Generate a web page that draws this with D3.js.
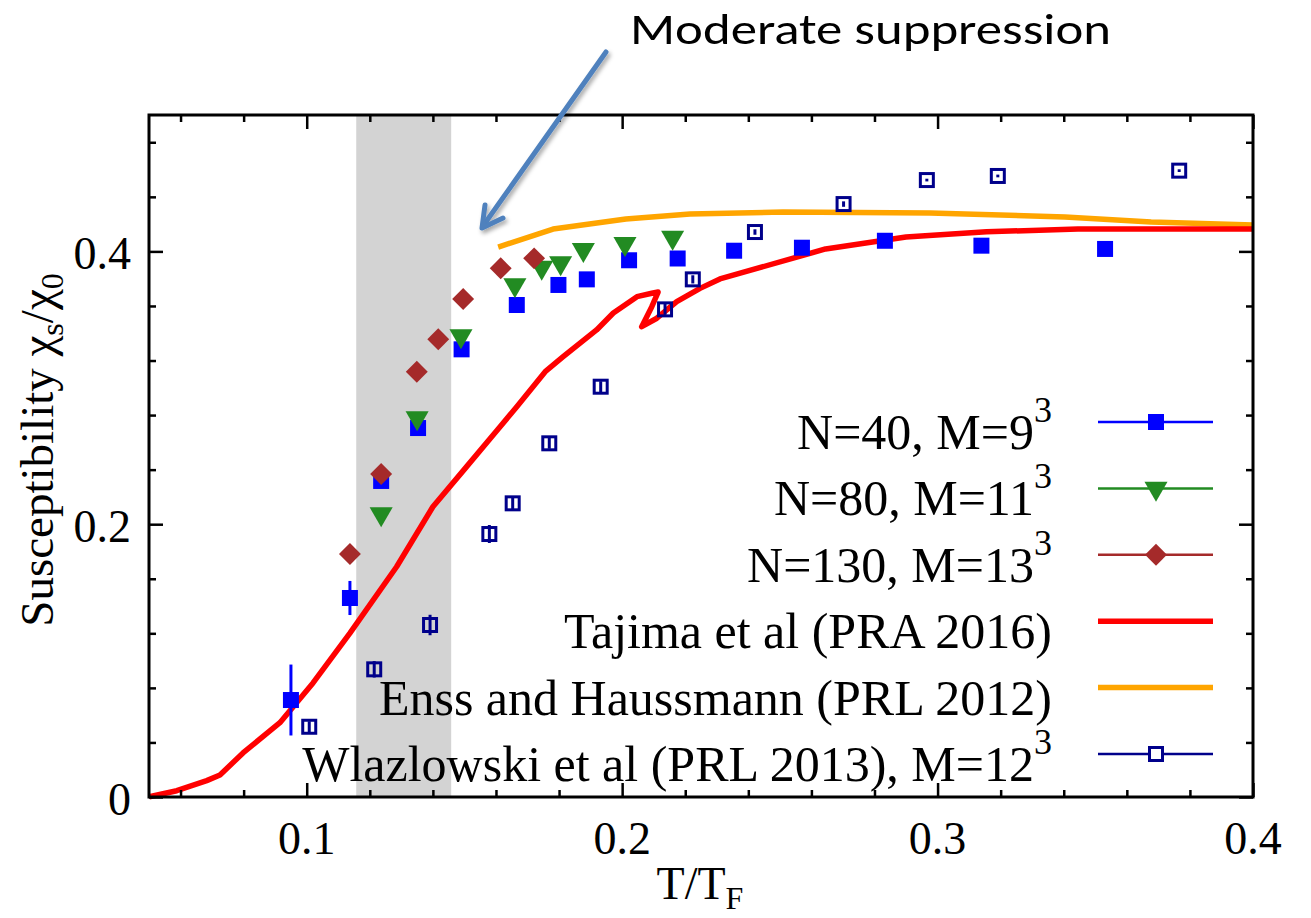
<!DOCTYPE html>
<html>
<head>
<meta charset="utf-8">
<script src="https://cdn.jsdelivr.net/npm/d3@7"></script>
<style>
  body { margin: 0; background: #fff; }
  text { font-family: "Liberation Serif", "Times New Roman", serif; fill: #000; }
</style>
</head>
<body>
<div id="root"></div>
<script>
// QMC spin susceptibility, N=40, M=9^3
var tempN40 = [0.0950, 0.1137, 0.1236, 0.1353, 0.1491, 0.1666, 0.1798, 0.1888, 0.2022, 0.2176, 0.2355, 0.2570, 0.2833, 0.3139, 0.3531];
var chiN40  = [0.0711, 0.1459, 0.2317, 0.2705, 0.3282, 0.3607, 0.3754, 0.3795, 0.3935, 0.3948, 0.4005, 0.4027, 0.4078, 0.4042, 0.4018];
var errN40  = [0.026, 0.0125, 0.005, 0.004, 0.004, 0.004, 0.003, 0.003, 0.003, 0.003, 0.003, 0.003, 0.003, 0.003, 0.003];

// N=80, M=11^3
var tempN80 = [0.1236, 0.1350, 0.1489, 0.1660, 0.1745, 0.1805, 0.1877, 0.2009, 0.2160];
var chiN80  = [0.2075, 0.2779, 0.3380, 0.3754, 0.3883, 0.3915, 0.4012, 0.4056, 0.4103];

// N=130, M=13^3
var tempN130 = [0.1137, 0.1236, 0.1349, 0.1417, 0.1496, 0.1615, 0.1721];
var chiN130  = [0.1782, 0.2368, 0.3118, 0.3356, 0.3651, 0.3876, 0.3949];

// Tajima et al (PRA 2016)
var tempTajima = [0.0501, 0.0588, 0.0683, 0.0725, 0.0798, 0.0915, 0.1020, 0.1137, 0.1285, 0.1400, 0.1507, 0.1613, 0.1666, 0.1756, 0.1813, 0.1919, 0.1972, 0.2047, 0.2094, 0.2114, 0.2094, 0.2062, 0.2110, 0.2173, 0.2247, 0.2310, 0.2645, 0.2900, 0.3155, 0.3445, 0.4000];
var chiTajima  = [0.0002, 0.0046, 0.0120, 0.0161, 0.0323, 0.0545, 0.0836, 0.1202, 0.1688, 0.2128, 0.2422, 0.2715, 0.2861, 0.3118, 0.3228, 0.3424, 0.3548, 0.3668, 0.3693, 0.3702, 0.3595, 0.3448, 0.3510, 0.3631, 0.3729, 0.3798, 0.4018, 0.4106, 0.4144, 0.4164, 0.4164];

// Enss and Haussmann (PRL 2012)
var tempEnss = [0.1607, 0.1781, 0.2012, 0.2215, 0.2510, 0.2976, 0.3404, 0.3677, 0.4000];
var chiEnss  = [0.4032, 0.4164, 0.4238, 0.4274, 0.4289, 0.4282, 0.4252, 0.4216, 0.4194];

// Wlazlowski et al (PRL 2013), M=12^3
var tempWlaz = [0.1008, 0.1214, 0.1391, 0.1579, 0.1653, 0.1769, 0.1932, 0.2136, 0.2224, 0.2421, 0.2702, 0.2966, 0.3191, 0.3766];
var chiWlaz  = [0.0515, 0.0936, 0.1261, 0.1928, 0.2153, 0.2593, 0.3008, 0.3575, 0.3795, 0.4142, 0.4347, 0.4523, 0.4553, 0.4592];
var errWlaz  = [0.004, 0.006, 0.0075, 0.0066, 0.005, 0.004, 0.004, 0.004, 0.003, 0.002, 0.002, 0.001, 0.001, 0.001];

// shaded region and ticks
var bandRange = [0.1157, 0.1458];
var xTicks = [0.1, 0.2, 0.3, 0.4];
var xMinor = [0.06, 0.08, 0.12, 0.14, 0.16, 0.18, 0.22, 0.24, 0.26, 0.28, 0.32, 0.34, 0.36, 0.38];
var yTicks = [0, 0.2, 0.4];
var yMinor = [0.04, 0.08, 0.12, 0.16, 0.24, 0.28, 0.32, 0.36, 0.44, 0.48];

var legendNames = ["N=40, M=9", "N=80, M=11", "N=130, M=13", "Tajima et al (PRA 2016)", "Enss and Haussmann (PRL 2012)", "Wlazlowski et al (PRL 2013), M=12"];
var legendSup   = ["3", "3", "3", "", "", "3"];

var colBlue = "#0000ff", colGreen = "#228b22", colBrown = "#a52a2a",
    colRed = "#ff0000", colOrange = "#ffa500", colNavy = "#00008b";

var W = 1311, H = 918;
var margin = {top: 115, right: 58, bottom: 121, left: 149},
    width = W - margin.left - margin.right,
    height = H - margin.top - margin.bottom;

var svg = d3.select("#root").append("svg")
    .attr("width", W)
    .attr("height", H);

var defs = svg.append("defs");
var shadow = defs.append("filter").attr("id", "shadow")
    .attr("x", "-20%").attr("y", "-20%").attr("width", "140%").attr("height", "140%");
shadow.append("feDropShadow")
    .attr("dx", 2).attr("dy", 3).attr("stdDeviation", 2)
    .attr("flood-color", "#000").attr("flood-opacity", 0.35);

var g = svg.append("g")
    .attr("transform", "translate(" + margin.left + "," + margin.top + ")");

var x = d3.scaleLinear().domain([0.05, 0.4]).range([0, width]);
var y = d3.scaleLinear().domain([0, 0.5]).range([height, 0]);

// grey band
g.append("rect")
    .attr("x", x(bandRange[0]))
    .attr("y", 0)
    .attr("width", x(bandRange[1]) - x(bandRange[0]))
    .attr("height", height)
    .attr("fill", "#d3d3d3");

function zip(xs, ys) {
  return xs.map(function(v, i) { return [v, ys[i]]; });
}

var line = d3.line()
    .x(function(d) { return x(d[0]); })
    .y(function(d) { return y(d[1]); });

// theory curves
g.append("path")
    .datum(zip(tempEnss, chiEnss))
    .attr("d", line)
    .attr("fill", "none")
    .attr("stroke", colOrange)
    .attr("stroke-width", 5.5)
    .attr("stroke-linejoin", "round");

g.append("path")
    .datum(zip(tempTajima, chiTajima))
    .attr("d", line)
    .attr("fill", "none")
    .attr("stroke", colRed)
    .attr("stroke-width", 5.5)
    .attr("stroke-linejoin", "round");

// Wlazlowski open squares with error bars
var wl = g.selectAll(".wl")
    .data(tempWlaz.map(function(t, i) { return {t: t, c: chiWlaz[i], e: errWlaz[i]}; }))
    .enter().append("g").attr("class", "wl");
wl.append("line")
    .attr("x1", function(d) { return x(d.t); })
    .attr("x2", function(d) { return x(d.t); })
    .attr("y1", function(d) { return y(d.c - d.e); })
    .attr("y2", function(d) { return y(d.c + d.e); })
    .attr("stroke", colNavy).attr("stroke-width", 3);
wl.append("rect")
    .attr("x", function(d) { return x(d.t) - 6.5; })
    .attr("y", function(d) { return y(d.c) - 6.5; })
    .attr("width", 13).attr("height", 13)
    .attr("fill", "none")
    .attr("stroke", colNavy).attr("stroke-width", 3);

// N=40 filled squares
var n40 = g.selectAll(".n40")
    .data(tempN40.map(function(t, i) { return {t: t, c: chiN40[i], e: errN40[i]}; }))
    .enter().append("g").attr("class", "n40");
n40.append("line")
    .attr("x1", function(d) { return x(d.t); })
    .attr("x2", function(d) { return x(d.t); })
    .attr("y1", function(d) { return y(d.c - d.e); })
    .attr("y2", function(d) { return y(d.c + d.e); })
    .attr("stroke", colBlue).attr("stroke-width", 3);
n40.append("rect")
    .attr("x", function(d) { return x(d.t) - 8; })
    .attr("y", function(d) { return y(d.c) - 8; })
    .attr("width", 16).attr("height", 16)
    .attr("fill", colBlue);

// N=80 down triangles
var tri = d3.symbol().type(d3.symbolTriangle).size(230);
g.selectAll(".n80")
    .data(zip(tempN80, chiN80))
    .enter().append("path")
    .attr("class", "n80")
    .attr("d", tri)
    .attr("transform", function(d) { return "translate(" + x(d[0]) + "," + y(d[1]) + ")rotate(180)"; })
    .attr("fill", colGreen);

// N=130 diamonds
var dia = d3.symbol().type(d3.symbolSquare).size(240);
g.selectAll(".n130")
    .data(zip(tempN130, chiN130))
    .enter().append("path")
    .attr("class", "n130")
    .attr("d", dia)
    .attr("transform", function(d) { return "translate(" + x(d[0]) + "," + y(d[1]) + ")rotate(45)"; })
    .attr("fill", colBrown);

// axes, ticks pointing inward on all four sides
function styleAxis(sel) {
  sel.select(".domain").remove();
  sel.selectAll(".tick line").attr("stroke", "#000").attr("stroke-width", 2.5);
  sel.selectAll("text").remove();
}
g.append("g").attr("transform", "translate(0," + height + ")")
    .call(d3.axisBottom(x).tickValues(xTicks).tickSize(-14)).call(styleAxis);
g.append("g").attr("transform", "translate(0," + height + ")")
    .call(d3.axisBottom(x).tickValues(xMinor).tickSize(-7)).call(styleAxis);
g.append("g")
    .call(d3.axisTop(x).tickValues(xTicks).tickSize(-14)).call(styleAxis);
g.append("g")
    .call(d3.axisTop(x).tickValues(xMinor).tickSize(-7)).call(styleAxis);
g.append("g")
    .call(d3.axisLeft(y).tickValues(yTicks).tickSize(-14)).call(styleAxis);
g.append("g")
    .call(d3.axisLeft(y).tickValues(yMinor).tickSize(-7)).call(styleAxis);
g.append("g").attr("transform", "translate(" + width + ",0)")
    .call(d3.axisRight(y).tickValues(yTicks).tickSize(-14)).call(styleAxis);
g.append("g").attr("transform", "translate(" + width + ",0)")
    .call(d3.axisRight(y).tickValues(yMinor).tickSize(-7)).call(styleAxis);

g.append("rect")
    .attr("width", width).attr("height", height)
    .attr("fill", "none").attr("stroke", "#000").attr("stroke-width", 3);

// tick labels
g.selectAll(".xlab")
    .data(xTicks)
    .enter().append("text")
    .attr("x", function(d) { return x(d); })
    .attr("y", height + 57)
    .attr("text-anchor", "middle")
    .attr("font-size", "46px")
    .text(function(d) { return d3.format(".1f")(d); });

g.selectAll(".ylab")
    .data(yTicks)
    .enter().append("text")
    .attr("x", -18)
    .attr("y", function(d) { return y(d) + 18; })
    .attr("text-anchor", "end")
    .attr("font-size", "46px")
    .text(function(d) { return d === 0 ? "0" : d3.format(".1f")(d); });

// axis titles
var xt = svg.append("text")
    .attr("x", 700)
    .attr("y", 899)
    .attr("text-anchor", "middle")
    .attr("font-size", "46px");
xt.append("tspan").text("T/T");
xt.append("tspan").attr("dy", 10).attr("font-size", "32px").text("F");

var yt = svg.append("text")
    .attr("transform", "translate(53,450)rotate(-90)")
    .attr("text-anchor", "middle")
    .attr("font-size", "47px");
yt.append("tspan").text("Susceptibility \u03c7");
yt.append("tspan").attr("dy", 10).attr("font-size", "32px").text("s");
yt.append("tspan").attr("dy", -10).text("/\u03c7");
yt.append("tspan").attr("dy", 10).attr("font-size", "32px").text("0");

// legend
var legX1 = 1098, legX2 = 1213, legMid = 1156, legTextX = 1052, legY0 = 422, legDy = 66.4;
var legColors = [colBlue, colGreen, colBrown, colRed, colOrange, colNavy];
var legWidths = [2.5, 2.5, 2.5, 5.5, 5.5, 2.5];

var leg = svg.selectAll(".leg")
    .data(legendNames)
    .enter().append("g")
    .attr("class", "leg")
    .attr("transform", function(d, i) { return "translate(0," + (legY0 + i * legDy) + ")"; });

leg.append("line")
    .attr("x1", legX1).attr("x2", legX2)
    .attr("stroke", function(d, i) { return legColors[i]; })
    .attr("stroke-width", function(d, i) { return legWidths[i]; });

var lt = leg.append("text")
    .attr("x", legTextX)
    .attr("y", 27)
    .attr("text-anchor", "end")
    .attr("font-size", "50px");
lt.append("tspan").text(function(d) { return d; });
lt.append("tspan")
    .attr("dy", -27)
    .attr("font-size", "36px")
    .text(function(d, i) { return legendSup[i]; });

// legend markers
leg.filter(function(d, i) { return i === 0; }).append("rect")
    .attr("x", legMid - 8).attr("y", -8).attr("width", 16).attr("height", 16)
    .attr("fill", colBlue);
leg.filter(function(d, i) { return i === 1; }).append("path")
    .attr("d", tri)
    .attr("transform", "translate(" + legMid + ",0)rotate(180)")
    .attr("fill", colGreen);
leg.filter(function(d, i) { return i === 2; }).append("path")
    .attr("d", dia)
    .attr("transform", "translate(" + legMid + ",0)rotate(45)")
    .attr("fill", colBrown);
leg.filter(function(d, i) { return i === 5; }).append("rect")
    .attr("x", legMid - 6.5).attr("y", -6.5).attr("width", 13).attr("height", 13)
    .attr("fill", "#fff")
    .attr("stroke", colNavy).attr("stroke-width", 3);

// annotation arrow
var arrowColor = "#4f81bd";
var ann = svg.append("g").attr("filter", "url(#shadow)");
ann.append("line")
    .attr("x1", 606).attr("y1", 52)
    .attr("x2", 483).attr("y2", 226)
    .attr("stroke", arrowColor).attr("stroke-width", 5).attr("stroke-linecap", "round");
ann.append("polyline")
    .attr("points", "485,205 482,228 503,218")
    .attr("fill", "none")
    .attr("stroke", arrowColor).attr("stroke-width", 5)
    .attr("stroke-linecap", "round").attr("stroke-linejoin", "round");

svg.append("text")
    .attr("x", 630)
    .attr("y", 44)
    .style("font-family", "Carlito, Lato, 'Open Sans', sans-serif")
    .attr("font-size", "44px")
    .attr("textLength", 481)
    .attr("lengthAdjust", "spacingAndGlyphs")
    .text("Moderate suppression");
</script>
</body>
</html>
